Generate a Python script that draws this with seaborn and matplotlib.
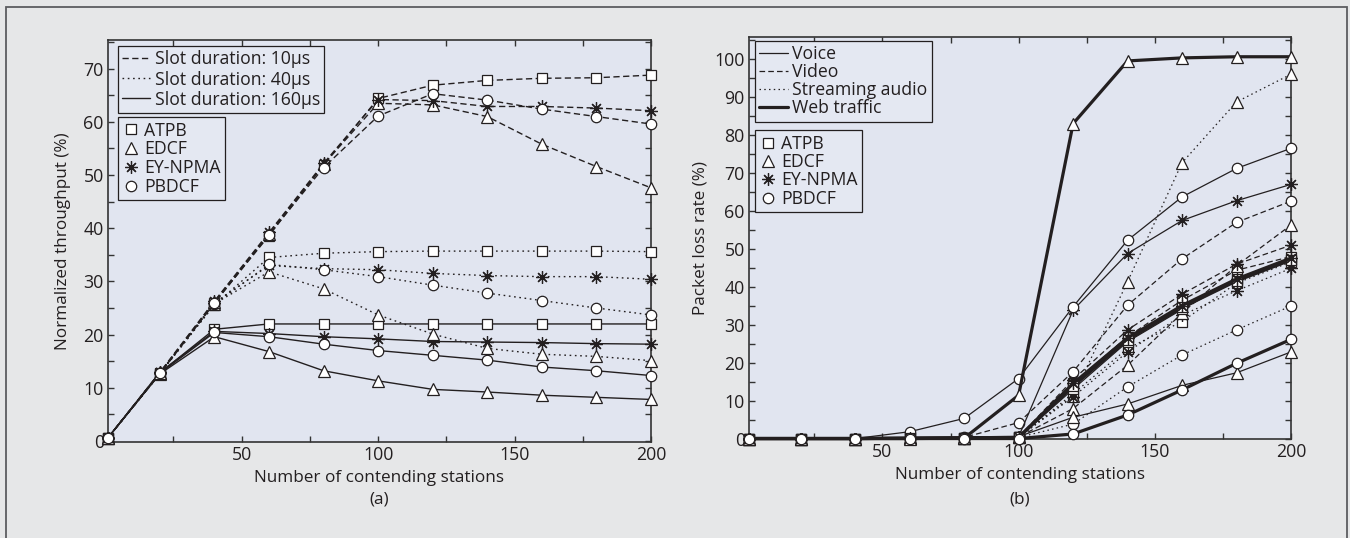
import numpy as np
import pandas as pd
import matplotlib
matplotlib.use("Agg")
import matplotlib.pyplot as plt
from matplotlib.lines import Line2D
from matplotlib.patches import Rectangle
from matplotlib.ticker import MultipleLocator
import seaborn as sns

# ---------------- data ----------------
stations = [1, 20, 40, 60, 80, 100, 120, 140, 160, 180, 200]

# (a) normalized throughput (%)
atpb_10 = [0.6, 12.6, 26.0, 38.6, 51.9, 64.4, 66.9, 67.8, 68.2, 68.3, 68.8]
edcf_10 = [0.6, 12.8, 26.2, 39.0, 52.0, 63.5, 63.2, 61.0, 55.8, 51.6, 47.6]
ey_10 = [0.6, 12.9, 26.3, 39.2, 52.2, 64.2, 64.0, 62.9, 62.9, 62.6, 62.1]
pb_10 = [0.6, 12.7, 25.9, 38.8, 51.4, 61.1, 65.3, 64.1, 62.4, 61.0, 59.6]

atpb_40 = [0.6, 12.6, 25.6, 34.5, 35.3, 35.6, 35.7, 35.7, 35.7, 35.7, 35.6]
edcf_40 = [0.6, 12.7, 25.8, 31.8, 28.6, 23.7, 20.1, 17.4, 16.3, 15.9, 15.1]
ey_40 = [0.6, 12.8, 26.0, 33.0, 32.4, 32.2, 31.5, 31.1, 30.9, 30.9, 30.4]
pb_40 = [0.6, 12.7, 25.7, 33.2, 32.2, 30.9, 29.3, 27.8, 26.4, 25.0, 23.7]

atpb_160 = [0.6, 12.8, 21.0, 22.0, 22.0, 22.0, 22.0, 22.0, 22.0, 22.0, 22.0]
edcf_160 = [0.6, 12.6, 19.6, 16.8, 13.2, 11.3, 9.7, 9.2, 8.6, 8.2, 7.8]
ey_160 = [0.6, 12.9, 20.6, 20.2, 19.6, 19.2, 18.7, 18.6, 18.5, 18.3, 18.2]
pb_160 = [0.6, 12.7, 20.4, 19.6, 18.2, 17.0, 16.1, 15.2, 13.9, 13.2, 12.3]

# (b) packet loss rate (%)
voice_atpb = [0, 0, 0, 0.1, 0.2, 0.3, 13.0, 25.5, 34.0, 42.0, 47.0]
voice_edcf = [0, 0, 0, 0.1, 0.2, 0.5, 5.6, 9.1, 14.0, 17.3, 22.8]
voice_ey = [0, 0, 0, 0.1, 0.2, 0.5, 33.8, 48.7, 57.4, 62.6, 66.9]
voice_pb = [0, 0, 0, 1.8, 5.3, 15.8, 34.7, 52.2, 63.6, 71.1, 76.4]

video_atpb = [0, 0, 0, 0.1, 0.2, 0.3, 14.5, 26.8, 36.4, 44.3, 47.9]
video_edcf = [0, 0, 0, 0.1, 0.2, 0.4, 7.9, 19.3, 33.0, 45.5, 56.2]
video_ey = [0, 0, 0, 0.1, 0.2, 0.4, 15.5, 28.6, 38.0, 45.9, 50.9]
video_pb = [0, 0, 0, 0.1, 0.3, 4.2, 17.6, 35.1, 47.3, 56.9, 62.5]

audio_atpb = [0, 0, 0, 0.1, 0.2, 0.3, 11.8, 23.7, 30.8, 40.9, 46.5]
audio_edcf = [0, 0, 0, 0.1, 0.2, 0.4, 11.2, 41.3, 72.6, 88.6, 95.9]
audio_ey = [0, 0, 0, 0.1, 0.2, 0.3, 11.0, 22.8, 32.5, 38.9, 44.8]
audio_pb = [0, 0, 0, 0.1, 0.2, 0.3, 3.8, 13.6, 22.0, 28.6, 34.9]

web_atpb = [0, 0, 0, 0.1, 0.2, 0.3, 13.8, 26.0, 34.5, 41.5, 47.0]
web_edcf = [0, 0, 0, 0.0, 0.1, 11.4, 82.9, 99.4, 100.2, 100.5, 100.5]
web_ey = [0, 0, 0, 0.1, 0.2, 0.3, 14.5, 26.5, 35.0, 42.0, 47.5]
web_pb = [0, 0, 0, 0.0, 0.0, 0.0, 1.2, 6.2, 12.8, 19.8, 26.1]

protocols = ["ATPB", "EDCF", "EY-NPMA", "PBDCF"]
slot_labels = ["Slot duration: 10µs", "Slot duration: 40µs", "Slot duration: 160µs"]
traffic_labels = ["Voice", "Video", "Streaming audio", "Web traffic"]

# ---------------- style ----------------
sns.set_theme(style="ticks")
plt.rcParams["font.family"] = ["Open Sans", "DejaVu Sans"]
plt.rcParams["font.size"] = 12.5

INK = "#231f20"
FIG_BG = "#e6e7e8"
AX_BG = "#e1e5f0"
ASTER = (8, 2, 0)
MARKERS = {"ATPB": "s", "EDCF": "^", "EY-NPMA": ASTER, "PBDCF": "o"}
MSIZE = {"s": 7.5, "^": 8.5, ASTER: 9, "o": 7.5}

DASHED = (0, (4.5, 2.5))
DOTTED = (0, (1.2, 2.6))
SOLID = "-"
FS_TICK = 12.8
FS_LABEL = 12.3
FS_LEG = 12.7

fig = plt.figure(figsize=(13.5, 5.38), dpi=100, facecolor=FIG_BG)
fig.patches.append(Rectangle((6 / 1350, -0.05), 1341 / 1350, (538 - 7) / 538 + 0.05,
                             transform=fig.transFigure, fill=False,
                             edgecolor="#5c5d60", linewidth=1.3, zorder=0))

axA = fig.add_axes([108 / 1350, (538 - 442) / 538, 543 / 1350, 402 / 538])
axB = fig.add_axes([749 / 1350, (538 - 439.3) / 538, 542 / 1350, 402.3 / 538])


def draw(ax, y, ls, lw, proto, z):
    m = MARKERS[proto]
    sns.lineplot(x=stations, y=y, ax=ax, color=INK, linestyle=ls, linewidth=lw,
                 marker=m, markersize=MSIZE[m], markerfacecolor="white",
                 markeredgecolor=INK, markeredgewidth=0.9, clip_on=False,
                 legend=False, zorder=z)


# panel (a)
series_a = [
    (SOLID, [atpb_160, edcf_160, ey_160, pb_160]),
    (DOTTED, [atpb_40, edcf_40, ey_40, pb_40]),
    (DASHED, [atpb_10, edcf_10, ey_10, pb_10]),
]
z = 3
for ls, group in series_a:
    for proto, vals in zip(protocols, group):
        draw(axA, vals, ls, 1.0, proto, z)
        z += 0.01

# panel (b)
series_b = [
    (DOTTED, 0.9, [audio_atpb, audio_edcf, audio_ey, audio_pb]),
    (DASHED, 0.9, [video_atpb, video_edcf, video_ey, video_pb]),
    (SOLID, 0.9, [voice_atpb, voice_edcf, voice_ey, voice_pb]),
    (SOLID, 2.3, [web_atpb, web_edcf, web_ey, web_pb]),
]
z = 3
for ls, lw, group in series_b:
    for proto, vals in zip(protocols, group):
        draw(axB, vals, ls, lw, proto, z)
        z += 0.01


def style_axes(ax, ylim):
    ax.set_facecolor(AX_BG)
    ax.set_xlim(1, 200)
    ax.set_ylim(*ylim)
    ax.xaxis.set_major_locator(MultipleLocator(50))
    ax.xaxis.set_minor_locator(MultipleLocator(25))
    ax.yaxis.set_major_locator(MultipleLocator(10))
    ax.yaxis.set_minor_locator(MultipleLocator(5))
    ax.tick_params(which="both", direction="in", top=True, right=True,
                   length=4.5, width=1.0, color="#333333", labelsize=FS_TICK,
                   labelcolor=INK, pad=3)
    for s in ax.spines.values():
        s.set_color("#333333")
        s.set_linewidth(1.2)
    ax.set_xlabel("Number of contending stations", fontsize=FS_LABEL, color=INK, labelpad=4)


style_axes(axA, (-0.2, 75.4))
style_axes(axB, (-0.2, 105.7))
axA.set_ylabel("Normalized throughput (%)", fontsize=FS_LABEL, color=INK, labelpad=9)
axB.set_ylabel("Packet loss rate (%)", fontsize=FS_LABEL, color=INK, labelpad=4)
axA.set_xticks([50, 100, 150, 200])
axB.set_xticks([50, 100, 150, 200])
axA.set_yticks(list(range(0, 71, 10)))
axB.set_yticks(list(range(0, 101, 10)))

fig.text((108 + 651) / 2 / 1350, 1 - 499 / 538, "(a)", ha="center", va="center",
         fontsize=FS_LABEL, color=INK)
fig.text((749 + 1291) / 2 / 1350, 1 - 499 / 538, "(b)", ha="center", va="center",
         fontsize=FS_LABEL, color=INK)


def make_legend(ax, handles, labels, anchor, hl, ls):
    leg = ax.legend(handles, labels, loc="upper left", bbox_to_anchor=anchor,
                    borderaxespad=0, frameon=True, fancybox=False, framealpha=1,
                    facecolor="#e4e8f2", edgecolor=INK, fontsize=FS_LEG,
                    handlelength=hl, handletextpad=0.25, labelspacing=ls,
                    borderpad=0.25)
    leg.get_frame().set_linewidth(0.9)
    for t in leg.get_texts():
        t.set_color(INK)
    return leg


line_styles = [DASHED, DOTTED, SOLID]
hA1 = [Line2D([], [], color=INK, linestyle=ls, linewidth=1.0) for ls in line_styles]
hB1 = [Line2D([], [], color=INK, linestyle=ls, linewidth=lw)
       for ls, lw in [(SOLID, 0.9), (DASHED, 0.9), (DOTTED, 0.9), (SOLID, 2.3)]]
hM = [Line2D([], [], color=INK, linestyle="none", marker=MARKERS[p],
             markersize=MSIZE[MARKERS[p]], markerfacecolor="white",
             markeredgecolor=INK, markeredgewidth=0.9) for p in protocols]

legA1 = make_legend(axA, hA1, slot_labels, (0.018, 0.985), 1.6, 0.12)
axA.add_artist(legA1)
make_legend(axA, hM, protocols, (0.018, 0.808), 1.0, 0.04)

legB1 = make_legend(axB, hB1, traffic_labels, (0.011, 0.99), 1.6, 0.0)
axB.add_artist(legB1)
make_legend(axB, hM, protocols, (0.011, 0.768), 1.0, 0.02)

fig.savefig("out.png", dpi=100, facecolor=FIG_BG)
